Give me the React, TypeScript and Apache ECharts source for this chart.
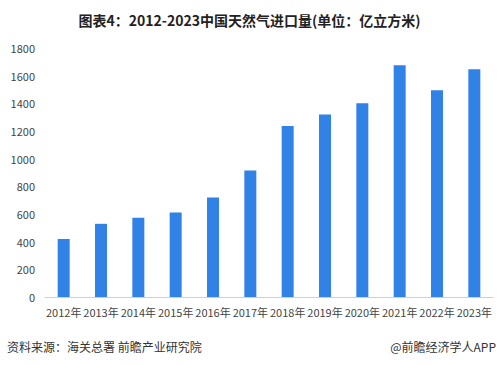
import React, { useEffect, useRef } from "react";
import * as echarts from "echarts";

const categories = ["2012年", "2013年", "2014年", "2015年", "2016年", "2017年", "2018年", "2019年", "2020年", "2021年", "2022年", "2023年"];
const importVolume = [420, 529, 572, 611, 720, 915, 1236, 1319, 1401, 1676, 1495, 1647];
const yTicks = { min: 0, max: 1800, interval: 200 };
const titleText = "图表4：2012-2023中国天然气进口量(单位：亿立方米)";
const sourceText = "资料来源：海关总署 前瞻产业研究院";
const brandText = "@前瞻经济学人APP";

export default function App() {
  const ref = useRef<HTMLDivElement>(null);
  useEffect(() => {
    if (!ref.current) return;
    const chart = echarts.init(ref.current, undefined, { renderer: "svg" });
    const font = "'Noto Sans CJK SC', 'Noto Sans', sans-serif";
    chart.setOption({
      animation: false,
      backgroundColor: "#ffffff",
      textStyle: { fontFamily: font },
      title: {
        text: titleText,
        left: "center",
        top: 8,
        textStyle: { fontSize: 14, fontWeight: "bold", color: "#222", fontFamily: font },
      },
      grid: { left: 45, right: 6, top: 48, bottom: 68, containLabel: false },
      xAxis: {
        type: "category",
        data: categories,
        axisLine: { show: true, lineStyle: { color: "#d0d0d0", width: 1 } },
        axisTick: { show: false },
        axisLabel: { color: "#444", fontSize: 11, margin: 9, interval: 0, fontFamily: font },
      },
      yAxis: {
        type: "value",
        min: yTicks.min,
        max: yTicks.max,
        interval: yTicks.interval,
        axisLine: { show: false },
        axisTick: { show: false },
        splitLine: { show: false },
        axisLabel: {
          color: "#444",
          fontSize: 11,
          margin: 10,
          fontFamily: font,
          formatter: (v: number) => String(v),
        },
      },
      series: [
        {
          type: "bar",
          data: importVolume,
          barWidth: 12,
          itemStyle: { color: "#3182e6" },
        },
      ],
      graphic: [
        {
          type: "text",
          left: 7,
          top: 340,
          style: { text: sourceText, fill: "#333", fontSize: 12, fontFamily: font },
        },
        {
          type: "text",
          right: 3,
          top: 340,
          style: { text: brandText, fill: "#333", fontSize: 12, fontFamily: font },
        },
      ],
    });
    return () => chart.dispose();
  }, []);
  return <div ref={ref} style={{ position: "fixed", left: 0, top: 0, width: 499, height: 365 }} />;
}
